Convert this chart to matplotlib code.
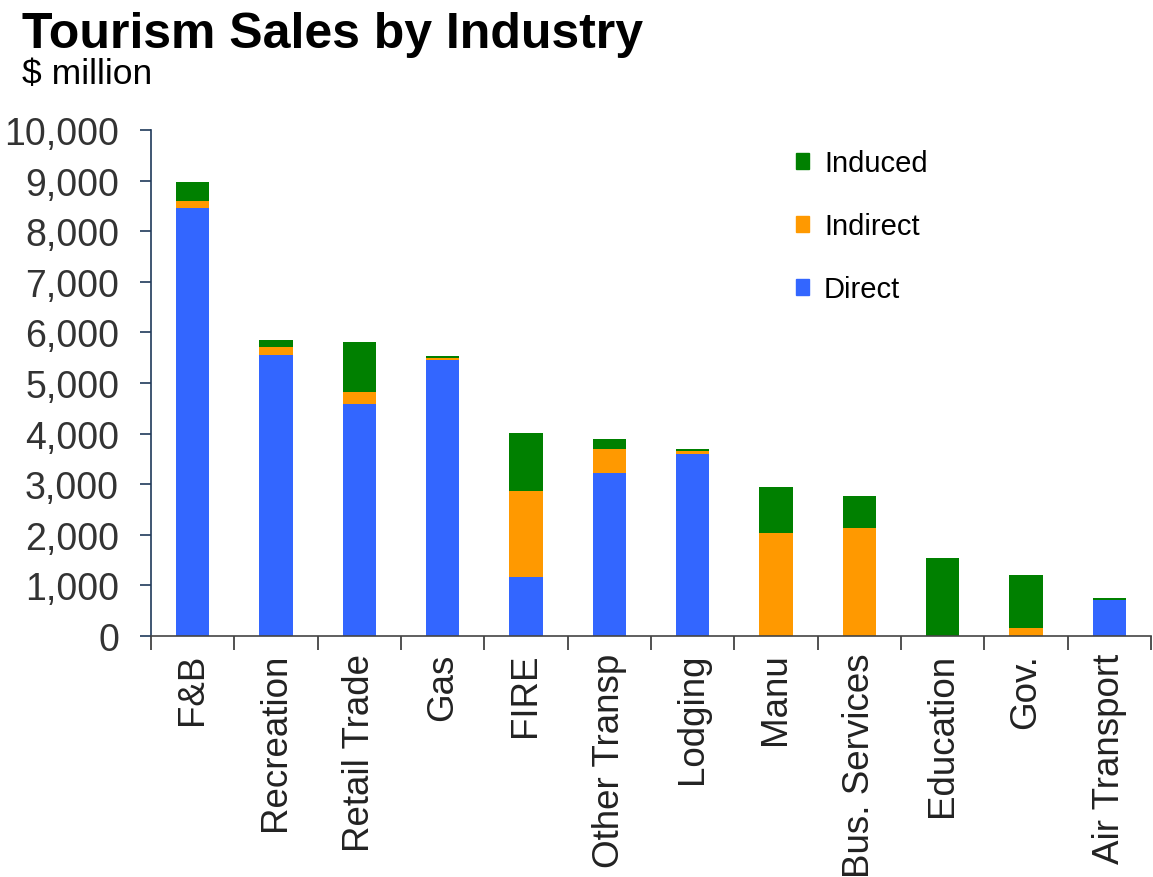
import numpy as np
import matplotlib.pyplot as plt
from matplotlib.patches import Patch

# Data ($ million)
industries = ["F&B", "Recreation", "Retail Trade", "Gas", "FIRE", "Other Transp",
              "Lodging", "Manu", "Bus. Services", "Education", "Gov.", "Air Transport"]
direct = [8450, 5560, 4580, 5450, 1170, 3220, 3600, 0, 0, 0, 0, 710]
indirect = [140, 150, 240, 40, 1700, 470, 60, 2030, 2130, 0, 160, 10]
induced = [390, 140, 1000, 40, 1140, 210, 30, 920, 640, 1550, 1050, 30]

BLUE = "#3366FF"
ORANGE = "#FF9900"
GREEN = "#008000"

plt.rcParams["font.family"] = ["Liberation Sans", "DejaVu Sans"]

fig = plt.figure(figsize=(11.53, 8.78), dpi=100)
ax = fig.add_axes([151 / 1153, 1 - 637 / 878, 1000 / 1153, 506 / 878])

x = np.arange(len(industries))
direct = np.array(direct)
indirect = np.array(indirect)
induced = np.array(induced)

ax.bar(x, direct, width=0.4, color=BLUE, label="Direct")
ax.bar(x, indirect, width=0.4, bottom=direct, color=ORANGE, label="Indirect")
ax.bar(x, induced, width=0.4, bottom=direct + indirect, color=GREEN, label="Induced")

ax.set_xlim(-0.5, len(industries) - 0.5)
ax.set_ylim(0, 10000)
ax.set_yticks(np.arange(0, 10001, 1000))
ax.set_yticklabels([f"{v:,}" for v in range(0, 10001, 1000)])

ax.set_xticks(x)
ax.set_xticklabels(industries, rotation=90, fontsize=26.5, color="#222222")
ax.set_xticks(np.arange(-0.5, len(industries)), minor=True)
ax.tick_params(axis="x", which="major", length=0, pad=12)
ax.tick_params(axis="x", which="minor", length=10, width=1.2, color="#333333")
ax.tick_params(axis="y", length=8, width=1.2, color="#1f3a5a", labelsize=27,
               labelcolor="#333333", pad=15)

for side in ["top", "right"]:
    ax.spines[side].set_visible(False)
ax.spines["left"].set_color("#1f3a5a")
ax.spines["left"].set_linewidth(1.2)
ax.spines["bottom"].set_color("#444444")
ax.spines["bottom"].set_linewidth(1.2)

handles = [Patch(color=GREEN, label="Induced"),
           Patch(color=ORANGE, label="Indirect"),
           Patch(color=BLUE, label="Direct")]
ax.legend(handles=handles, loc="upper left", bbox_to_anchor=(0.619, 1.014),
          frameon=False, fontsize=21, handlelength=0.45, handleheight=0.45,
          handletextpad=0.5, labelspacing=1.2)

fig.text(22 / 1153, 1 - 48 / 878, "Tourism Sales by Industry", fontsize=36,
         fontweight="bold", va="baseline")
fig.text(22 / 1153, 1 - 84 / 878, "$ million", fontsize=25.5, va="baseline")

fig.savefig("out.png", dpi=100)
